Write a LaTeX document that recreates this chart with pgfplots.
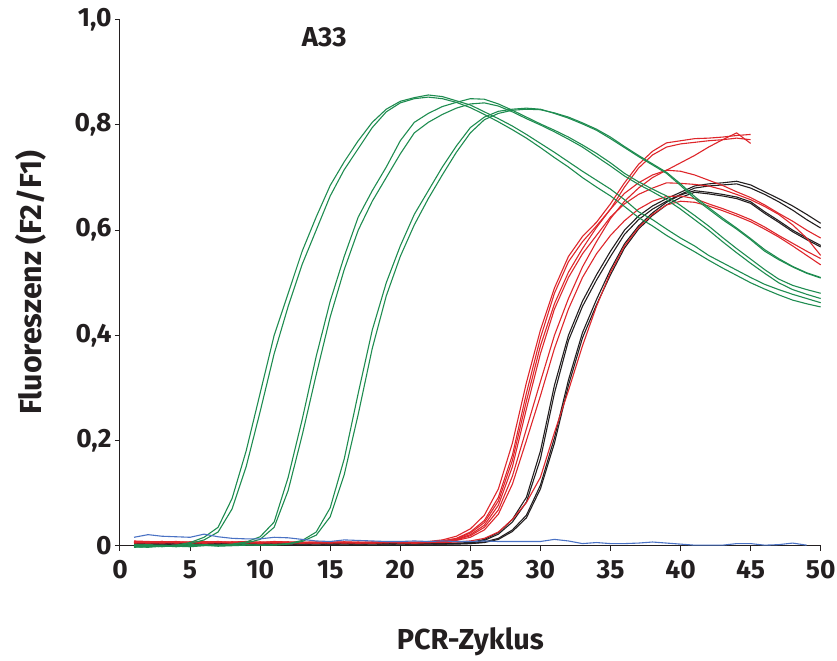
\documentclass[border=0pt]{standalone}
\usepackage{fontspec}
\setmainfont{Fira Sans}
\usepackage{pgfplots}
\pgfplotsset{compat=1.18}
\usepackage{pgfplotstable}

\definecolor{textc}{RGB}{35,31,32}
\definecolor{cgreen}{RGB}{30,140,80}
\definecolor{cred}{RGB}{222,38,43}
\definecolor{cblack}{RGB}{35,31,32}
\definecolor{cblue}{RGB}{74,114,196}

\pgfplotstableread{
c g1a g1b g2a g2b g3a g3b
1 0.002 -0.002 0.001 -0.002 0.000 -0.003
2 0.000 -0.003 0.002 -0.001 0.001 -0.002
3 -0.002 -0.001 0.000 0.001 -0.001 0.000
4 0.001 0.000 -0.002 -0.001 0.000 -0.001
5 0.006 0.004 0.000 -0.002 0.002 0.000
6 0.016 0.011 0.002 0.000 0.001 0.001
7 0.035 0.026 0.001 0.001 0.000 -0.001
8 0.090 0.070 0.003 0.002 0.001 0.000
9 0.180 0.150 0.007 0.005 0.002 0.001
10 0.290 0.255 0.017 0.012 0.001 0.001
11 0.400 0.365 0.045 0.035 0.002 0.001
12 0.480 0.455 0.130 0.105 0.004 0.003
13 0.560 0.535 0.240 0.210 0.010 0.008
14 0.625 0.600 0.360 0.325 0.026 0.020
15 0.685 0.665 0.465 0.435 0.072 0.055
16 0.730 0.715 0.550 0.525 0.165 0.135
17 0.770 0.755 0.625 0.600 0.290 0.250
18 0.805 0.795 0.675 0.655 0.410 0.375
19 0.830 0.825 0.720 0.700 0.500 0.475
20 0.845 0.842 0.770 0.745 0.570 0.550
21 0.852 0.850 0.805 0.785 0.630 0.610
22 0.857 0.853 0.822 0.805 0.675 0.660
23 0.854 0.850 0.835 0.820 0.720 0.705
24 0.846 0.843 0.843 0.832 0.760 0.748
25 0.838 0.833 0.850 0.840 0.795 0.785
26 0.825 0.820 0.849 0.842 0.815 0.810
27 0.812 0.806 0.840 0.836 0.826 0.822
28 0.798 0.791 0.828 0.825 0.830 0.828
29 0.782 0.775 0.815 0.812 0.832 0.830
30 0.765 0.757 0.802 0.800 0.830 0.829
31 0.748 0.738 0.790 0.787 0.822 0.823
32 0.730 0.720 0.777 0.773 0.813 0.815
33 0.712 0.700 0.762 0.758 0.802 0.804
34 0.695 0.682 0.746 0.740 0.790 0.792
35 0.678 0.665 0.728 0.722 0.774 0.777
36 0.658 0.645 0.708 0.703 0.757 0.759
37 0.635 0.624 0.692 0.687 0.740 0.742
38 0.620 0.608 0.678 0.673 0.724 0.726
39 0.602 0.590 0.665 0.658 0.708 0.710
40 0.585 0.574 0.647 0.640 0.685 0.688
41 0.570 0.559 0.628 0.620 0.660 0.664
42 0.552 0.543 0.608 0.600 0.640 0.643
43 0.538 0.528 0.586 0.578 0.620 0.623
44 0.524 0.514 0.565 0.557 0.602 0.604
45 0.510 0.500 0.545 0.537 0.582 0.584
46 0.497 0.488 0.525 0.518 0.560 0.563
47 0.487 0.477 0.507 0.500 0.544 0.546
48 0.478 0.467 0.495 0.487 0.530 0.531
49 0.470 0.460 0.487 0.478 0.518 0.519
50 0.462 0.454 0.480 0.470 0.509 0.510
}\greendata

\pgfplotstableread{
c r1 r2 r3 r4 r5 r6 r7
1 .008 .006 .007 .005 .009 .006 .007
2 .007 .007 .006 .006 .008 .005 .006
3 .008 .006 .007 .005 .007 .006 .008
4 .006 .007 .005 .006 .008 .007 .006
5 .007 .005 .006 .007 .006 .005 .007
6 .008 .006 .007 .005 .007 .006 .005
7 .006 .007 .006 .006 .008 .007 .006
8 .007 .006 .005 .007 .006 .005 .007
9 .008 .005 .006 .006 .007 .006 .006
10 .006 .006 .007 .005 .006 .007 .005
11 .007 .007 .006 .006 .008 .005 .006
12 .006 .006 .005 .007 .007 .006 .007
13 .007 .005 .006 .006 .006 .005 .006
14 .006 .006 .007 .005 .007 .006 .005
15 .005 .007 .006 .006 .006 .007 .006
16 .006 .006 .005 .007 .007 .006 .007
17 .007 .005 .006 .006 .006 .005 .006
18 .006 .006 .007 .005 .007 .006 .005
19 .006 .007 .006 .006 .006 .007 .006
20 .007 .006 .005 .007 .007 .006 .007
21 .006 .005 .006 .006 .006 .005 .006
22 .008 .007 .006 .007 .007 .006 .006
23 .011 .009 .007 .009 .008 .007 .006
24 .018 .014 .011 .013 .012 .010 .007
25 .032 .026 .019 .024 .021 .016 .009
26 .058 .048 .035 .044 .039 .030 .014
27 .108 .092 .068 .085 .077 .060 .026
28 .195 .172 .132 .162 .150 .117 .050
29 .310 .290 .222 .275 .260 .200 .082
30 .410 .395 .312 .380 .365 .285 .130
31 .490 .480 .400 .460 .450 .375 .215
32 .550 .540 .470 .520 .510 .450 .295
33 .588 .578 .530 .565 .555 .510 .380
34 .615 .608 .578 .605 .590 .555 .455
35 .650 .640 .622 .640 .625 .590 .520
36 .690 .682 .655 .670 .650 .618 .570
37 .725 .718 .680 .690 .668 .640 .605
38 .750 .743 .700 .705 .680 .655 .630
39 .766 .758 .714 .714 .690 .664 .648
40 .770 .764 .728 .712 .689 .665 .655
41 .774 .767 .742 .705 .687 .660 .653
42 .775 .770 .758 .695 .684 .650 .646
43 .777 .772 .772 .685 .677 .641 .637
44 .780 .775 .785 .673 .668 .631 .627
45 .782 .772 .765 .662 .658 .620 .616
46 nan nan nan .648 .645 .606 .602
47 nan nan nan .632 .630 .590 .587
48 nan nan nan .617 .610 .575 .570
49 nan nan nan .600 .585 .560 .552
50 nan nan nan .585 .552 .546 .534
}\reddata

\pgfplotstableread{
c b1 b2 b3 b4
1 .004 .003 .005 .004
3 .003 .004 .004 .003
5 .004 .003 .003 .004
7 .003 .004 .004 .003
9 .004 .003 .003 .004
11 .003 .004 .004 .003
13 .004 .003 .003 .004
15 .003 .004 .004 .003
17 .004 .003 .003 .004
19 .003 .004 .004 .003
21 .004 .003 .003 .004
23 .004 .004 .003 .003
24 .005 .004 .004 .003
25 .006 .005 .004 .004
26 .012 .010 .007 .006
27 .025 .022 .014 .012
28 .050 .045 .030 .027
29 .092 .083 .058 .053
30 .180 .165 .115 .108
31 .305 .290 .205 .195
32 .400 .390 .315 .305
33 .465 .455 .405 .395
34 .515 .505 .468 .458
35 .560 .550 .525 .515
36 .600 .592 .574 .566
37 .627 .620 .608 .602
38 .646 .640 .633 .628
39 .660 .655 .653 .648
40 .672 .668 .667 .662
41 .684 .680 .675 .672
42 .688 .684 .672 .669
43 .690 .686 .668 .665
44 .693 .688 .663 .660
45 .686 .680 .654 .651
46 .673 .668 .635 .632
47 .660 .654 .618 .615
48 .646 .638 .600 .597
49 .630 .620 .585 .582
50 .613 .604 .571 .568
}\blackdata

\pgfplotstableread{
c v
1 .016
2 .021
3 .018
4 .017
5 .016
6 .022
7 .017
8 .014
9 .013
10 .013
11 .016
12 .015
13 .012
14 .009
15 .008
16 .011
17 .010
18 .009
19 .008
20 .008
21 .009
22 .008
23 .009
24 .008
25 .008
26 .009
27 .008
28 .008
29 .008
30 .008
31 .012
32 .009
33 .004
34 .006
35 .004
36 .004
37 .005
38 .007
39 .005
40 .003
41 .001
42 .001
43 .001
44 .004
45 .004
46 .001
47 .002
48 .005
49 .001
}\bluedata

\begin{document}
\begin{tikzpicture}
\begin{axis}[
  at={(0,0)}, anchor=south west,
  scale only axis, width=700.7bp, height=525.9bp,
  xmin=0, xmax=50, ymin=0, ymax=1,
  axis x line=bottom, axis y line=left,
  axis line style={-, line width=1bp, color=textc},
  xtick={0,5,...,50},
  xticklabels={0,5,10,15,20,25,30,35,40,45,50},
  ytick={0,0.2,0.4,0.6,0.8,1.0},
  yticklabels={0,{0,2},{0,4},{0,6},{0,8},{1,0}},
  tick align=outside, major tick length=5bp,
  tick style={line width=1bp, color=textc},
  ticklabel style={font=\bfseries\fontsize{26.5}{30}\selectfont, text=textc},
  xticklabel style={yshift=-6bp},
  clip=false,
  xlabel={PCR-Zyklus},
  ylabel={Fluoreszenz (F2/F1)},
  every axis x label/.style={at={(axis description cs:0.5,-0.1983)}, anchor=base, font=\bfseries\fontsize{29}{32}\selectfont, text=textc},
  every axis y label/.style={at={(axis description cs:-0.1127,0.5)}, anchor=base, rotate=90, font=\bfseries\fontsize{30.5}{34}\selectfont, text=textc},
  every axis plot/.append style={line width=1.1bp, line join=round},
]
\addplot[cblack] table[x=c,y=b1] {\blackdata};
\addplot[cblack] table[x=c,y=b2] {\blackdata};
\addplot[cblack] table[x=c,y=b3] {\blackdata};
\addplot[cblack] table[x=c,y=b4] {\blackdata};
\addplot[cred] table[x=c,y=r1] {\reddata};
\addplot[cred] table[x=c,y=r2] {\reddata};
\addplot[cred] table[x=c,y=r3] {\reddata};
\addplot[cred] table[x=c,y=r4] {\reddata};
\addplot[cred] table[x=c,y=r5] {\reddata};
\addplot[cred] table[x=c,y=r6] {\reddata};
\addplot[cred] table[x=c,y=r7] {\reddata};
\addplot[cgreen] table[x=c,y=g1a] {\greendata};
\addplot[cgreen] table[x=c,y=g1b] {\greendata};
\addplot[cgreen] table[x=c,y=g2a] {\greendata};
\addplot[cgreen] table[x=c,y=g2b] {\greendata};
\addplot[cgreen] table[x=c,y=g3a] {\greendata};
\addplot[cgreen] table[x=c,y=g3b] {\greendata};
\addplot[cblue] table[x=c,y=v] {\bluedata};
\node[font=\bfseries\fontsize{27.5}{30}\selectfont, text=textc, inner sep=0pt] at (axis cs:14.57,0.966) {A33};
\end{axis}
\pgfresetboundingbox
\path (-120bp,-115.3bp) rectangle (717bp,545.7bp);
\end{tikzpicture}
\end{document}
